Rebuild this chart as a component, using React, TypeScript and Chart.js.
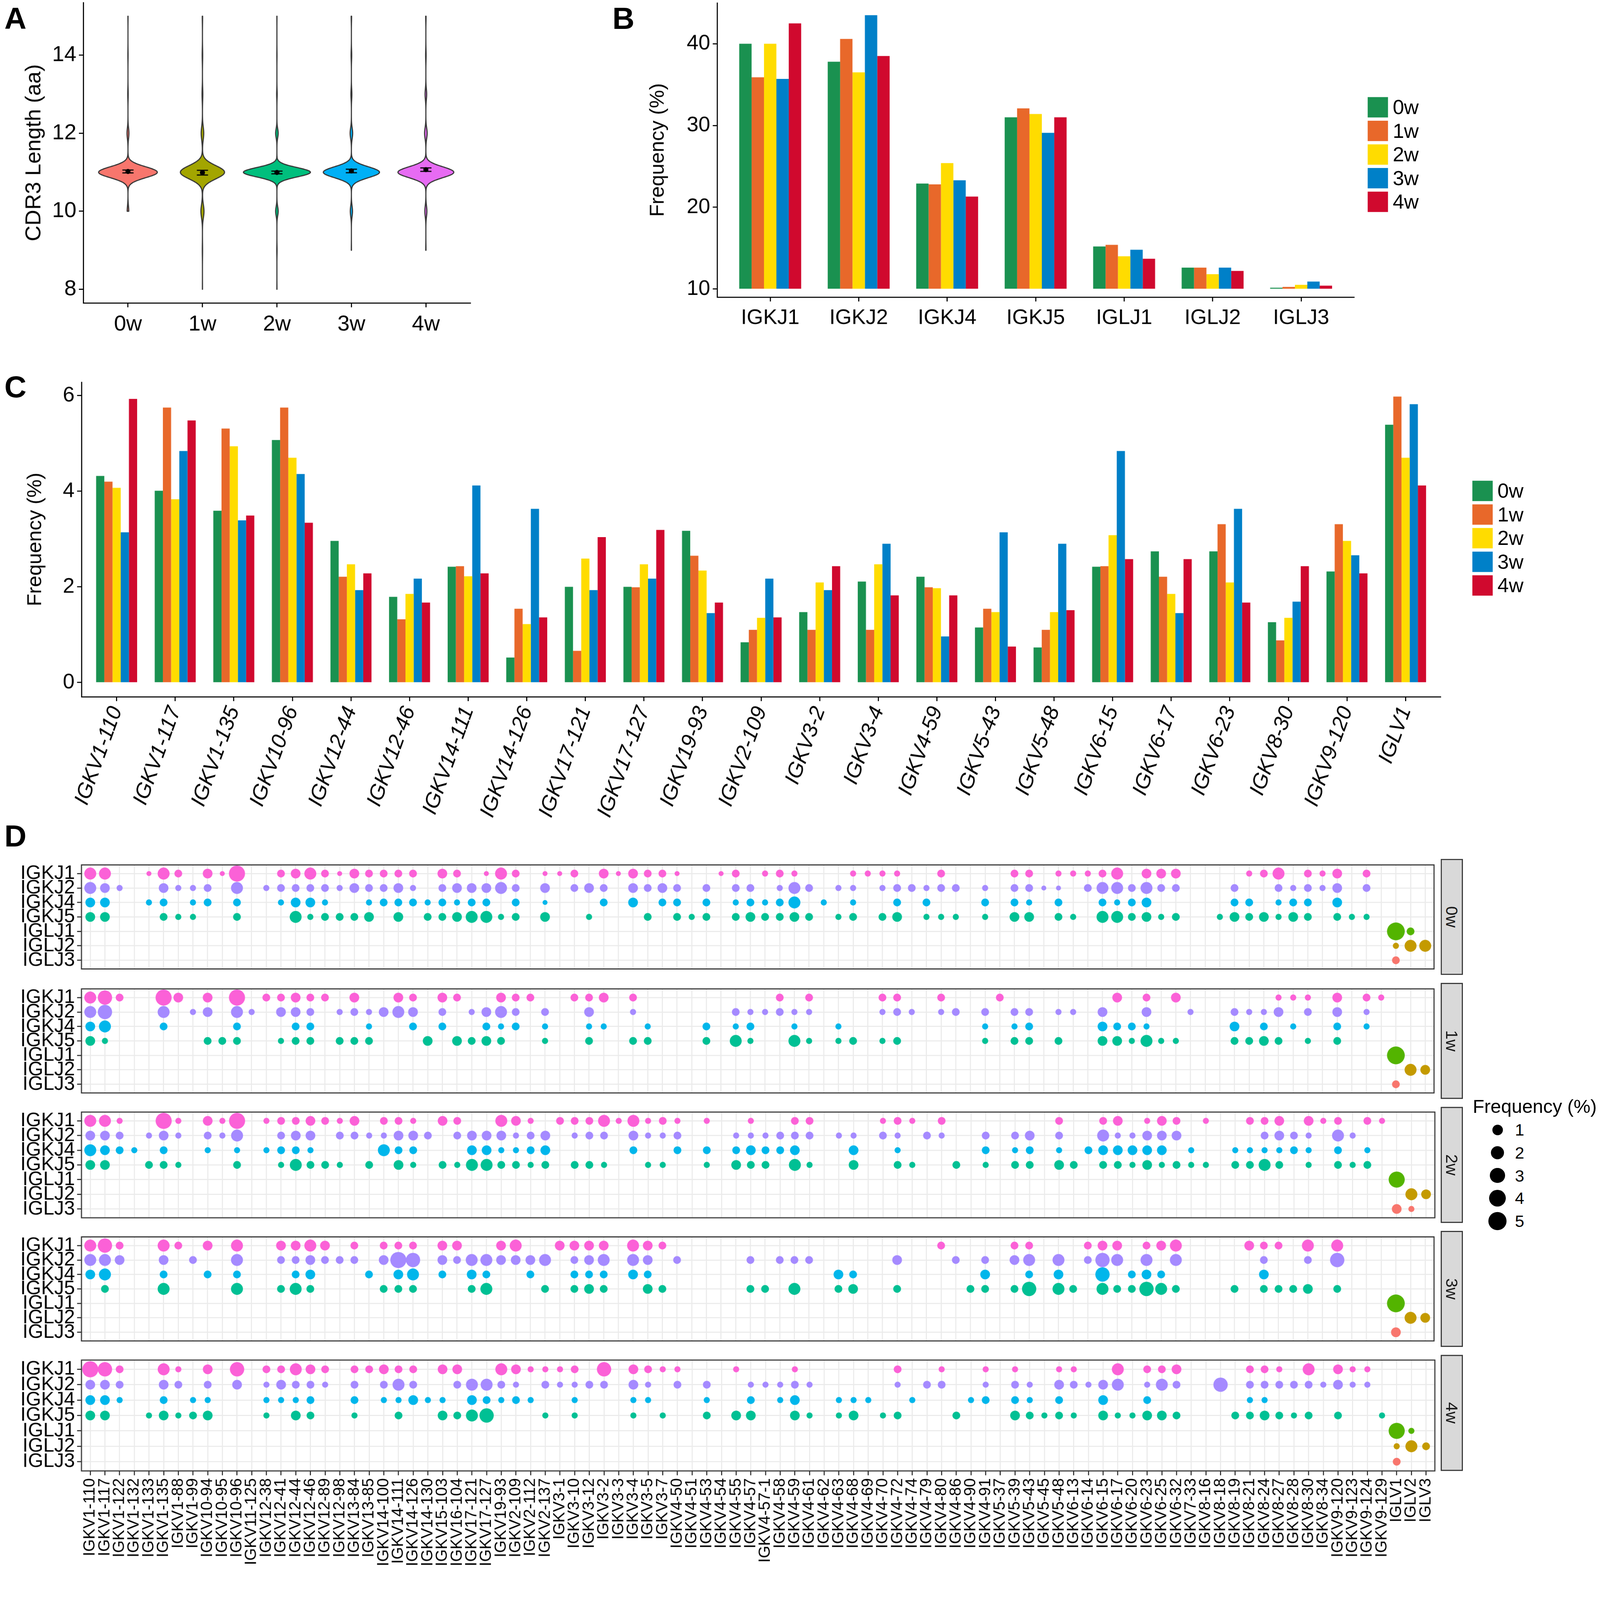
import React, { useEffect, useRef } from 'react';
import { Chart, registerables } from 'chart.js';

Chart.register(...registerables);

const FONT = "'Liberation Sans', Arial, Helvetica, sans-serif";

/* ======================= DATA ======================= */
const WEEKS = ['0w', '1w', '2w', '3w', '4w'];

// ---- Panel A: CDR3 length distribution (% of sequences per length) ----
const CDR3_LENGTHS = [8, 9, 10, 11, 12, 13, 14, 15];
const CDR3_PCT_0W = [0, 0, 2.5, 93, 3, 0.8, 0.4, 0.3];
const CDR3_PCT_1W = [0.2, 0.6, 6, 85, 5, 1.5, 1, 0.7];
const CDR3_PCT_2W = [0.2, 0.5, 3.5, 91, 3.5, 0.8, 0.3, 0.2];
const CDR3_PCT_3W = [0, 0.3, 3.5, 89, 4, 1.5, 1, 0.7];
const CDR3_PCT_4W = [0, 0.4, 3.2, 88, 4, 2.5, 0.8, 0.6];
const CDR3_BANDWIDTH = [0.14, 0.17, 0.12, 0.14, 0.14];
const CDR3_MEAN = [11.02, 10.99, 10.995, 11.033, 11.066];
const CDR3_SE = [0.038, 0.06, 0.035, 0.046, 0.044];

// ---- Panel B: J gene usage (%) ----
const B_GENES = ['IGKJ1', 'IGKJ2', 'IGKJ4', 'IGKJ5', 'IGLJ1', 'IGLJ2', 'IGLJ3'];
const B_0W = [40.0, 37.8, 22.9, 31.0, 15.2, 12.6, 10.15];
const B_1W = [35.9, 40.6, 22.8, 32.1, 15.4, 12.6, 10.25];
const B_2W = [40.0, 36.5, 25.4, 31.4, 14.0, 11.8, 10.5];
const B_3W = [35.7, 43.5, 23.3, 29.1, 14.8, 12.6, 10.9];
const B_4W = [42.5, 38.5, 21.3, 31.0, 13.7, 12.2, 10.4];

// ---- Panel C: V gene usage (%) ----
const C_GENES = ['IGKV1-110', 'IGKV1-117', 'IGKV1-135', 'IGKV10-96', 'IGKV12-44', 'IGKV12-46', 'IGKV14-111', 'IGKV14-126', 'IGKV17-121', 'IGKV17-127', 'IGKV19-93', 'IGKV2-109', 'IGKV3-2', 'IGKV3-4', 'IGKV4-59', 'IGKV5-43', 'IGKV5-48', 'IGKV6-15', 'IGKV6-17', 'IGKV6-23', 'IGKV8-30', 'IGKV9-120', 'IGLV1'];
const C_0W = [4.32, 4.01, 3.59, 5.07, 2.96, 1.79, 2.42, 0.52, 2.0, 2.0, 3.17, 0.84, 1.47, 2.11, 2.21, 1.15, 0.73, 2.42, 2.74, 2.74, 1.26, 2.32, 5.39];
const C_1W = [4.2, 5.75, 5.31, 5.75, 2.21, 1.32, 2.43, 1.54, 0.66, 1.99, 2.65, 1.1, 1.1, 1.1, 1.99, 1.54, 1.1, 2.43, 2.21, 3.31, 0.88, 3.31, 5.98];
const C_2W = [4.07, 3.83, 4.94, 4.7, 2.47, 1.85, 2.22, 1.22, 2.59, 2.47, 2.34, 1.35, 2.09, 2.47, 1.97, 1.47, 1.47, 3.08, 1.85, 2.09, 1.35, 2.96, 4.7];
const C_3W = [3.14, 4.84, 3.39, 4.36, 1.93, 2.17, 4.12, 3.63, 1.93, 2.17, 1.45, 2.17, 1.93, 2.9, 0.96, 3.14, 2.9, 4.84, 1.45, 3.63, 1.69, 2.66, 5.82];
const C_4W = [5.93, 5.48, 3.49, 3.34, 2.28, 1.67, 2.28, 1.36, 3.04, 3.19, 1.67, 1.36, 2.43, 1.82, 1.82, 0.75, 1.51, 2.58, 2.58, 1.67, 2.43, 2.28, 4.12];

// ---- Panel D: V-J pairing ----
const D_COLUMNS = ['IGKV1-110', 'IGKV1-117', 'IGKV1-122', 'IGKV1-132', 'IGKV1-133', 'IGKV1-135', 'IGKV1-88', 'IGKV1-99', 'IGKV10-94', 'IGKV10-95', 'IGKV10-96', 'IGKV11-125', 'IGKV12-38', 'IGKV12-41', 'IGKV12-44', 'IGKV12-46', 'IGKV12-89', 'IGKV12-98', 'IGKV13-84', 'IGKV13-85', 'IGKV14-100', 'IGKV14-111', 'IGKV14-126', 'IGKV14-130', 'IGKV15-103', 'IGKV16-104', 'IGKV17-121', 'IGKV17-127', 'IGKV19-93', 'IGKV2-109', 'IGKV2-112', 'IGKV2-137', 'IGKV3-1', 'IGKV3-10', 'IGKV3-12', 'IGKV3-2', 'IGKV3-3', 'IGKV3-4', 'IGKV3-5', 'IGKV3-7', 'IGKV4-50', 'IGKV4-51', 'IGKV4-53', 'IGKV4-54', 'IGKV4-55', 'IGKV4-57', 'IGKV4-57-1', 'IGKV4-58', 'IGKV4-59', 'IGKV4-61', 'IGKV4-62', 'IGKV4-63', 'IGKV4-68', 'IGKV4-69', 'IGKV4-70', 'IGKV4-72', 'IGKV4-74', 'IGKV4-79', 'IGKV4-80', 'IGKV4-86', 'IGKV4-90', 'IGKV4-91', 'IGKV5-37', 'IGKV5-39', 'IGKV5-43', 'IGKV5-45', 'IGKV5-48', 'IGKV6-13', 'IGKV6-14', 'IGKV6-15', 'IGKV6-17', 'IGKV6-20', 'IGKV6-23', 'IGKV6-25', 'IGKV6-32', 'IGKV7-33', 'IGKV8-16', 'IGKV8-18', 'IGKV8-19', 'IGKV8-21', 'IGKV8-24', 'IGKV8-27', 'IGKV8-28', 'IGKV8-30', 'IGKV8-34', 'IGKV9-120', 'IGKV9-123', 'IGKV9-124', 'IGKV9-129', 'IGLV1', 'IGLV2', 'IGLV3'];
const D_ROWS = ['IGKJ1', 'IGKJ2', 'IGKJ4', 'IGKJ5', 'IGLJ1', 'IGLJ2', 'IGLJ3'];
// dot size class (0 = no dot) -> frequency (%)
const SIZE_CLASS_PCT = [0, 0.01, 0.08, 0.3, 0.75, 1.5, 2.6, 3.6, 4.7];
const SIZE_LEGEND_BREAKS = [1, 2, 3, 4, 5];

// IGKJ rows: one class per IGKV column (first 89 columns)
const D_0W_IGKJ1 = [5,5,0,0,1,5,3,0,4,1, 7,0,0,3,4,5,3,1,4,3, 3,3,3,0,4,3,0,1,5,3, 0,1,1,3,0,4,1,4,3,3, 1,0,0,1,3,0,2,3,2,0, 0,0,2,2,2,2,0,0,3,0, 0,0,0,3,3,0,2,2,2,3, 5,0,4,4,4,0,0,0,0,2, 3,5,0,3,2,4,0,3,0];
const D_0W_IGKJ2 = [5,4,2,0,0,4,2,2,3,0, 5,0,2,3,3,3,3,2,4,3, 3,4,2,0,3,4,4,4,5,3, 0,4,0,3,4,3,0,4,3,4, 3,0,3,0,3,3,0,2,5,3, 0,2,2,0,2,3,3,2,3,3, 0,2,0,3,3,1,1,0,3,5, 5,3,5,3,3,0,0,0,3,0, 0,3,2,3,2,4,0,3,0];
const D_0W_IGKJ4 = [4,4,0,0,2,3,0,2,3,0, 3,0,0,2,4,4,2,0,0,2, 3,3,3,2,3,2,3,3,0,3, 0,1,0,0,0,3,0,4,0,3, 3,0,3,0,2,3,2,3,5,0, 2,0,2,0,0,3,0,3,0,0, 0,3,0,3,2,0,3,0,0,3, 2,3,4,0,0,0,0,0,3,3, 0,2,3,3,0,4,0,0,0];
const D_0W_IGKJ5 = [4,4,0,0,0,3,2,2,0,0, 3,0,0,0,5,2,3,3,3,4, 0,4,0,3,3,4,5,5,2,3, 0,4,0,0,2,0,0,0,3,0, 3,2,3,0,3,4,3,3,4,3, 0,2,3,0,3,4,0,2,2,2, 0,2,0,4,4,0,3,2,0,5, 5,3,4,2,3,0,0,2,4,3, 4,2,4,3,0,3,2,2,0];
const D_1W_IGKJ1 = [5,6,3,0,0,7,4,0,4,0, 7,0,3,3,4,3,3,0,4,0, 0,4,3,0,4,3,0,0,4,3, 3,0,0,3,3,4,0,3,0,0, 0,0,0,0,0,0,0,3,0,3, 0,0,0,0,3,3,0,0,3,0, 0,0,3,0,0,0,0,0,0,0, 4,0,3,0,4,0,0,0,0,0, 0,2,2,2,0,4,0,3,2];
const D_1W_IGKJ2 = [5,6,0,0,0,5,0,2,4,0, 5,2,0,4,4,3,0,2,3,2, 4,5,4,0,3,0,2,4,5,3, 0,3,0,0,4,0,0,2,0,0, 0,0,0,0,3,2,2,3,2,2, 0,0,0,0,2,3,2,0,2,3, 0,3,0,3,3,0,2,2,0,4, 0,0,4,0,0,2,0,0,3,2, 2,4,0,3,0,4,0,2,0];
const D_1W_IGKJ4 = [4,5,0,0,0,3,0,0,0,0, 3,0,0,0,3,3,0,0,0,2, 0,0,3,0,3,0,0,3,2,3, 0,2,0,0,2,2,0,0,2,0, 0,0,3,0,2,3,0,0,2,0, 0,2,0,0,0,0,0,0,0,0, 0,2,0,2,3,0,0,0,0,4, 3,3,2,0,0,0,0,0,4,0, 3,0,2,0,0,3,0,2,0];
const D_1W_IGKJ5 = [4,2,0,0,0,0,0,0,3,3, 3,0,0,2,3,3,0,3,3,3, 0,0,0,4,0,4,3,4,3,0, 0,2,0,0,3,0,0,3,3,0, 0,0,3,0,5,2,0,0,5,2, 0,2,3,0,2,3,0,0,0,0, 0,2,0,3,3,0,3,0,0,4, 4,2,5,2,2,0,0,0,3,3, 4,3,0,2,0,3,0,0,0];
const D_2W_IGKJ1 = [5,5,2,0,0,7,2,0,4,2, 7,0,2,3,3,4,3,2,4,0, 3,3,2,0,4,3,0,0,5,4, 2,0,3,3,3,5,2,5,2,3, 2,0,2,0,0,2,0,0,3,3, 0,0,0,0,2,3,2,0,3,0, 0,0,0,0,0,0,3,0,0,3, 4,0,2,4,3,0,2,0,0,3, 3,4,0,4,2,3,0,3,2];
const D_2W_IGKJ2 = [4,4,3,0,2,4,2,0,3,2, 5,0,0,3,4,4,0,3,3,2, 2,4,4,3,0,3,4,4,4,2, 3,4,0,2,3,3,0,4,2,2, 3,0,0,0,2,2,2,3,3,3, 0,2,2,0,3,2,0,3,2,0, 0,3,0,3,4,0,3,0,0,5, 2,2,4,4,4,0,0,0,0,0, 3,4,3,2,0,5,2,0,0];
const D_2W_IGKJ4 = [5,4,3,2,0,3,0,0,2,0, 2,0,2,3,3,2,0,0,0,0, 5,3,3,0,0,0,4,4,2,2, 3,4,0,0,0,0,0,3,0,0, 3,0,3,0,3,4,3,3,4,0, 0,0,4,0,0,2,0,0,0,0, 0,3,0,2,3,0,2,0,3,4, 4,4,4,4,0,2,0,0,2,2, 2,2,3,2,0,3,0,2,0];
const D_2W_IGKJ5 = [4,4,0,0,3,3,2,0,0,0, 3,0,0,2,5,3,3,2,0,3, 0,4,2,0,3,2,5,5,3,3, 2,3,0,3,3,2,0,0,2,2, 0,0,2,0,4,3,3,0,5,2, 0,0,4,0,0,3,2,0,0,3, 0,2,0,3,3,0,4,3,0,3, 3,2,4,2,3,2,2,0,3,3, 5,3,0,2,0,3,2,3,0];
const D_3W_IGKJ1 = [5,6,3,0,0,5,3,0,4,0, 5,0,0,4,4,5,4,0,3,0, 3,3,3,0,4,4,0,0,4,5, 0,0,4,4,4,4,0,5,4,3, 0,0,0,0,0,0,0,0,0,0, 0,0,0,0,0,0,0,0,3,0, 0,0,0,3,3,0,0,0,3,4, 4,0,3,4,5,0,0,0,0,4, 3,3,0,5,0,5,0,0,0];
const D_3W_IGKJ2 = [5,5,4,0,0,4,0,3,0,0, 5,0,0,3,3,4,3,3,3,0, 4,7,6,0,4,3,5,5,4,4, 4,5,0,3,4,5,0,5,4,0, 3,0,0,0,0,3,0,3,3,3, 0,0,0,0,0,4,0,0,0,3, 0,3,0,4,5,0,5,0,3,6, 5,0,5,0,5,0,0,0,0,0, 3,0,0,3,0,6,0,0,0];
const D_3W_IGKJ4 = [4,5,0,0,0,3,0,0,3,0, 3,0,0,0,3,4,0,0,0,3, 0,4,5,0,3,0,4,3,0,0, 3,0,0,3,3,3,0,4,3,0, 0,0,0,0,0,0,0,0,0,0, 0,4,3,0,0,0,0,0,0,0, 0,4,0,0,3,0,4,0,0,6, 0,3,4,3,0,0,0,0,0,0, 4,0,0,0,0,0,0,0,0];
const D_3W_IGKJ5 = [0,3,0,0,0,5,0,0,0,0, 5,0,0,3,5,3,0,0,0,0, 3,3,3,0,0,0,3,5,0,0, 0,3,0,3,4,3,0,0,4,3, 0,0,0,0,0,3,3,0,5,0, 0,3,4,0,0,3,0,0,0,0, 3,3,0,3,6,0,5,3,0,5, 3,3,6,5,3,0,0,0,3,0, 3,3,3,4,0,3,0,0,0];
const D_4W_IGKJ1 = [7,6,3,0,0,5,2,0,4,0, 6,0,3,3,5,4,3,0,3,3, 4,3,3,0,4,4,0,0,5,4, 2,2,2,3,0,6,0,4,3,2, 2,0,0,0,2,0,0,0,2,0, 0,0,0,0,0,3,0,0,2,0, 0,2,0,2,0,0,2,2,0,0, 5,0,3,3,4,0,0,0,0,3, 3,2,0,5,0,4,2,2,0];
const D_4W_IGKJ2 = [4,4,3,0,0,4,3,0,3,0, 4,0,2,4,3,3,2,0,3,0, 3,5,3,0,0,3,5,5,3,2, 0,3,2,2,3,3,0,4,2,0, 3,0,3,0,0,2,2,2,3,2, 0,0,0,0,0,2,0,3,3,0, 0,2,0,3,2,0,4,3,2,4, 5,0,2,5,3,0,0,6,0,3, 3,3,3,3,2,4,2,2,0];
const D_4W_IGKJ4 = [4,4,2,0,0,3,0,2,2,0, 0,0,2,2,2,3,0,0,3,0, 2,2,4,2,2,0,4,3,2,3, 2,0,0,2,0,0,0,2,2,0, 0,0,2,0,0,3,0,2,4,0, 0,2,2,2,0,0,2,0,0,0, 2,3,0,3,2,0,3,0,0,4, 0,0,3,0,0,0,0,0,0,2, 2,0,0,0,0,0,0,0,0];
const D_4W_IGKJ5 = [4,4,0,0,2,4,2,3,4,0, 0,0,2,0,4,3,0,0,2,0, 0,3,0,0,4,3,5,6,0,0, 0,2,0,2,0,0,0,2,0,2, 0,0,3,0,4,4,0,0,4,2, 0,2,4,0,2,3,0,0,0,3, 0,0,0,4,3,2,3,2,0,4, 2,2,4,4,3,0,0,0,3,3, 4,3,2,3,0,3,0,0,2];
// IGLJ rows: classes for IGLV1, IGLV2, IGLV3
const D_0W_IGLJ1 = [8, 3, 0], D_0W_IGLJ2 = [2, 5, 5], D_0W_IGLJ3 = [3, 0, 0];
const D_1W_IGLJ1 = [8, 0, 0], D_1W_IGLJ2 = [0, 5, 4], D_1W_IGLJ3 = [3, 0, 0];
const D_2W_IGLJ1 = [7, 0, 0], D_2W_IGLJ2 = [0, 5, 4], D_2W_IGLJ3 = [4, 2, 0];
const D_3W_IGLJ1 = [8, 0, 0], D_3W_IGLJ2 = [0, 5, 4], D_3W_IGLJ3 = [4, 0, 0];
const D_4W_IGLJ1 = [7, 2, 0], D_4W_IGLJ2 = [2, 5, 3], D_4W_IGLJ3 = [3, 0, 0];

/* ======================= STYLE / LAYOUT ======================= */
const PAGE_W = 4400, PAGE_H = 4319;
const VIOLIN_COLORS = ['#F8766D', '#A3A500', '#00BF7D', '#00B0F6', '#E76BF3'];
const BAR_COLORS = ['#1A9150', '#E8682A', '#FFDC00', '#0080C8', '#D0092E'];
const ROW_COLORS = ['#FB61D7', '#A58AFF', '#00B6EB', '#00C094', '#53B400', '#C49A00', '#F8766D'];

const L = {
  A: { rect: { left: 0, top: 0, width: 1320, height: 920 }, area: { left: 229, right: 1294, top: 7, bottom: 833 } },
  B: { rect: { left: 1700, top: 0, width: 2100, height: 920 }, area: { left: 1972, right: 3724, top: 8, bottom: 817 } },
  C: { rect: { left: 0, top: 1040, width: 4000, height: 1250 }, area: { left: 224, right: 3962, top: 1051, bottom: 1916 } },
  D: { left: 224, right: 3962, tops: [2362, 2703, 3044, 3385, 3726], h: 319, canvasW: 3968 },
};

const dotDiameter = (pct: number) => 12 + 17 * Math.sqrt(pct);

function frame(rect: any, area: any) {
  return {
    padding: { left: 0, top: area.top - rect.top, right: rect.left + rect.width - area.right, bottom: 0 },
    yWidth: area.left - rect.left,
    xHeight: rect.top + rect.height - area.bottom,
  };
}
const fitTo = (size: any) => (scale: any) => {
  if (size.width !== undefined) scale.width = size.width;
  if (size.height !== undefined) scale.height = size.height;
  scale.paddingLeft = 0; scale.paddingRight = 0; scale.paddingTop = 0; scale.paddingBottom = 0;
};
const setTicks = (values: number[]) => (scale: any) => { scale.ticks = values.map((v) => ({ value: v })); };
const range = (n: number) => Array.from({ length: n }, (_, i) => i);

const classicGrid = { display: true, drawOnChartArea: false, drawTicks: true, tickLength: 12, tickWidth: 3, tickColor: '#000', offset: false };
const classicBorder = { display: true, color: '#000', width: 3 };
const baseOpts = { animation: false, responsive: false, devicePixelRatio: 1, events: [], plugins: { legend: { display: false }, tooltip: { enabled: false } } };

/* ======================= PANEL A ======================= */
const CDR3_PCT = [CDR3_PCT_0W, CDR3_PCT_1W, CDR3_PCT_2W, CDR3_PCT_3W, CDR3_PCT_4W];

function violinProfiles() {
  const step = 0.005;
  const profiles = CDR3_PCT.map((pct, i) => {
    const present = CDR3_LENGTHS.filter((_, k) => pct[k] > 0);
    const lo = Math.min(...present), hi = Math.max(...present);
    const total = pct.reduce((a, b) => a + b, 0);
    const bw = CDR3_BANDWIDTH[i];
    const ys: number[] = [], ds: number[] = [];
    const n = Math.round((hi - lo) / step);
    for (let s = 0; s <= n; s++) {
      const yv = lo + s * step;
      let d = 0;
      CDR3_LENGTHS.forEach((len, k) => { const z = (yv - len) / bw; d += pct[k] * Math.exp(-0.5 * z * z); });
      ys.push(yv); ds.push(d / (total * bw * Math.sqrt(2 * Math.PI)));
    }
    return { ys, ds };
  });
  const maxD = Math.max(...profiles.map((p) => Math.max(...p.ds)));
  return profiles.map((p) => ({ ys: p.ys, hw: p.ds.map((d) => (0.45 * d) / maxD) }));
}

const violinPlugin = {
  id: 'violins',
  beforeDatasetsDraw(chart: any) {
    const { ctx, scales } = chart;
    const x = scales.x, y = scales.y;
    const profiles = violinProfiles();
    ctx.save();
    profiles.forEach((p, i) => {
      ctx.beginPath();
      p.ys.forEach((v, k) => {
        const px = x.getPixelForValue(i + p.hw[k]), py = y.getPixelForValue(v);
        if (k === 0) ctx.moveTo(px, py); else ctx.lineTo(px, py);
      });
      for (let k = p.ys.length - 1; k >= 0; k--) ctx.lineTo(x.getPixelForValue(i - p.hw[k]), y.getPixelForValue(p.ys[k]));
      ctx.closePath();
      ctx.fillStyle = VIOLIN_COLORS[i];
      ctx.fill();
      ctx.lineWidth = 3; ctx.lineJoin = 'round'; ctx.strokeStyle = '#333333';
      ctx.stroke();
    });
    // error bars (mean ± SE)
    ctx.strokeStyle = '#000'; ctx.lineWidth = 3;
    WEEKS.forEach((_, i) => {
      const lo = y.getPixelForValue(CDR3_MEAN[i] - CDR3_SE[i]);
      const hi = y.getPixelForValue(CDR3_MEAN[i] + CDR3_SE[i]);
      const xl = x.getPixelForValue(i - 0.075), xr = x.getPixelForValue(i + 0.075), xc = x.getPixelForValue(i);
      ctx.beginPath();
      ctx.moveTo(xl, lo); ctx.lineTo(xr, lo);
      ctx.moveTo(xl, hi); ctx.lineTo(xr, hi);
      ctx.moveTo(xc, lo); ctx.lineTo(xc, hi);
      ctx.stroke();
    });
    ctx.restore();
  },
};

function makeA(canvas: HTMLCanvasElement) {
  const f = frame(L.A.rect, L.A.area);
  return new Chart(canvas, {
    type: 'scatter',
    data: { datasets: [{ data: WEEKS.map((_, i) => ({ x: i, y: CDR3_MEAN[i] })), pointRadius: 7, pointBackgroundColor: '#000', pointBorderWidth: 0 }] },
    options: {
      ...baseOpts,
      layout: { padding: f.padding },
      scales: {
        x: {
          type: 'linear', min: -0.6, max: 4.6, afterBuildTicks: setTicks(range(5)), afterFit: fitTo({ height: f.xHeight }),
          ticks: { callback: (v: any) => WEEKS[v], font: { size: 60, family: FONT }, color: '#000', padding: 11, autoSkip: false, maxRotation: 0 },
          grid: classicGrid, border: classicBorder,
        },
        y: {
          type: 'linear', min: 7.65, max: 15.35, afterBuildTicks: setTicks([8, 10, 12, 14]), afterFit: fitTo({ width: f.yWidth }),
          ticks: { font: { size: 60, family: FONT }, color: '#000', padding: 7, autoSkip: false },
          grid: classicGrid, border: classicBorder,
          title: { display: true, text: 'CDR3 Length (aa)', font: { size: 60, family: FONT }, color: '#000', padding: { top: 58, bottom: 0 } },
        },
      },
    } as any,
    plugins: [violinPlugin],
  } as any);
}

/* ======================= PANELS B & C ======================= */
function makeBars(canvas: HTMLCanvasElement, lay: any, genes: string[], series: number[][], opt: any) {
  const f = frame(lay.rect, lay.area);
  return new Chart(canvas, {
    type: 'bar',
    data: {
      datasets: WEEKS.map((w, k) => ({
        label: w,
        data: series[k].map((v, i) => ({ x: i, y: v })),
        backgroundColor: BAR_COLORS[k], borderWidth: 0, base: opt.base,
        categoryPercentage: 0.7, barPercentage: 1,
      })),
    },
    options: {
      ...baseOpts,
      layout: { padding: f.padding },
      scales: {
        x: {
          type: 'linear', offset: false, min: -0.6, max: genes.length - 0.4,
          afterBuildTicks: setTicks(range(genes.length)), afterFit: fitTo({ height: f.xHeight }),
          ticks: {
            callback: (v: any) => genes[v], font: { size: 58, family: FONT, style: opt.italic ? 'italic' : 'normal' }, color: '#000',
            padding: opt.xPad, autoSkip: false, minRotation: opt.rotation, maxRotation: opt.rotation,
          },
          grid: classicGrid, border: classicBorder,
        },
        y: {
          type: 'linear', min: opt.yMin, max: opt.yMax, afterBuildTicks: setTicks(opt.yTicks), afterFit: fitTo({ width: f.yWidth }),
          ticks: { font: { size: 58, family: FONT }, color: '#000', padding: 7, autoSkip: false },
          grid: classicGrid, border: classicBorder,
          title: { display: true, text: 'Frequency (%)', font: { size: 56, family: FONT }, color: '#000', padding: { top: opt.titlePad, bottom: 0 } },
        },
      },
    } as any,
  } as any);
}

/* ======================= PANEL D ======================= */
const D_IGKJ = [
  [D_0W_IGKJ1, D_0W_IGKJ2, D_0W_IGKJ4, D_0W_IGKJ5],
  [D_1W_IGKJ1, D_1W_IGKJ2, D_1W_IGKJ4, D_1W_IGKJ5],
  [D_2W_IGKJ1, D_2W_IGKJ2, D_2W_IGKJ4, D_2W_IGKJ5],
  [D_3W_IGKJ1, D_3W_IGKJ2, D_3W_IGKJ4, D_3W_IGKJ5],
  [D_4W_IGKJ1, D_4W_IGKJ2, D_4W_IGKJ4, D_4W_IGKJ5],
];
const D_IGLJ = [
  [D_0W_IGLJ1, D_0W_IGLJ2, D_0W_IGLJ3],
  [D_1W_IGLJ1, D_1W_IGLJ2, D_1W_IGLJ3],
  [D_2W_IGLJ1, D_2W_IGLJ2, D_2W_IGLJ3],
  [D_3W_IGLJ1, D_3W_IGLJ2, D_3W_IGLJ3],
  [D_4W_IGLJ1, D_4W_IGLJ2, D_4W_IGLJ3],
];
const IGLV_FIRST = D_COLUMNS.indexOf('IGLV1');

const panelBorder = {
  id: 'panelBorder',
  afterDraw(chart: any) {
    const { ctx, chartArea: a } = chart;
    ctx.save();
    ctx.strokeStyle = '#333333'; ctx.lineWidth = 3;
    ctx.strokeRect(a.left, a.top, a.right - a.left, a.bottom - a.top);
    ctx.restore();
  },
};

function dRect(k: number) {
  const last = k === WEEKS.length - 1;
  const top = L.D.tops[k];
  return { left: 0, top: top - 8, width: L.D.canvasW, height: L.D.h + 8 + (last ? 268 : 8) };
}

function makeFacet(canvas: HTMLCanvasElement, k: number) {
  const last = k === WEEKS.length - 1;
  const rect = dRect(k);
  const area = { left: L.D.left, right: L.D.right, top: L.D.tops[k], bottom: L.D.tops[k] + L.D.h };
  const f = frame(rect, area);
  const datasets = D_ROWS.map((row, g) => {
    const pts: any[] = [];
    if (g < 4) {
      D_IGKJ[k][g].forEach((c, col) => { if (c) pts.push({ x: col, y: g, r: dotDiameter(SIZE_CLASS_PCT[c]) / 2 }); });
    } else {
      D_IGLJ[k][g - 4].forEach((c, j) => { if (c) pts.push({ x: IGLV_FIRST + j, y: g, r: dotDiameter(SIZE_CLASS_PCT[c]) / 2 }); });
    }
    return { label: row, data: pts, backgroundColor: ROW_COLORS[g], borderWidth: 0, clip: false };
  });
  return new Chart(canvas, {
    type: 'bubble',
    data: { datasets },
    options: {
      ...baseOpts,
      layout: { padding: f.padding },
      scales: {
        x: {
          type: 'linear', min: -0.6, max: D_COLUMNS.length - 0.4,
          afterBuildTicks: setTicks(range(D_COLUMNS.length)), afterFit: fitTo({ height: f.xHeight }),
          ticks: {
            display: last, callback: (v: any) => D_COLUMNS[v], font: { size: 44, family: FONT }, color: '#000',
            padding: 8, autoSkip: false, minRotation: 90, maxRotation: 90,
          },
          grid: { display: true, color: '#EBEBEB', lineWidth: 3, drawTicks: last, tickLength: 12, tickWidth: 3, tickColor: '#333333' },
          border: { display: false },
        },
        y: {
          type: 'linear', reverse: true, min: -0.6, max: 6.6,
          afterBuildTicks: setTicks(range(D_ROWS.length)), afterFit: fitTo({ width: f.yWidth }),
          ticks: { callback: (v: any) => D_ROWS[v], font: { size: 54, family: FONT }, color: '#000', padding: 6, autoSkip: false },
          grid: { display: true, color: '#EBEBEB', lineWidth: 3, drawTicks: true, tickLength: 12, tickWidth: 3, tickColor: '#333333' },
          border: { display: false },
        },
      },
    } as any,
    plugins: [panelBorder],
  } as any);
}

/* ======================= APP ======================= */
const abs = (left: number, top: number, extra: any = {}) => ({ position: 'absolute' as const, left, top, ...extra });
const letterStyle = (left: number, top: number) => abs(left, top, { fontSize: 84, fontWeight: 'bold', lineHeight: 1, color: '#000' });

function viewportScale() {
  if (typeof window === 'undefined') return 1;
  const w = document.documentElement.clientWidth || window.innerWidth || PAGE_W;
  return w / PAGE_W;
}

export default function App() {
  const refA = useRef<HTMLCanvasElement>(null);
  const refB = useRef<HTMLCanvasElement>(null);
  const refC = useRef<HTMLCanvasElement>(null);
  const refD = useRef<(HTMLCanvasElement | null)[]>([]);
  document.documentElement.style.overflow = 'hidden';
  document.body.style.margin = '0';
  document.body.style.overflow = 'hidden';
  const s = viewportScale();

  useEffect(() => {
    Chart.defaults.font.family = FONT;
    Chart.defaults.color = '#000';
    const charts: any[] = [];
    charts.push(makeA(refA.current!));
    charts.push(makeBars(refB.current!, L.B, B_GENES, [B_0W, B_1W, B_2W, B_3W, B_4W],
      { base: 10, yMin: 9.0, yMax: 45.0, yTicks: [10, 20, 30, 40], rotation: 0, italic: false, xPad: 11, titlePad: 76 }));
    charts.push(makeBars(refC.current!, L.C, C_GENES, [C_0W, C_1W, C_2W, C_3W, C_4W],
      { base: 0, yMin: -0.3, yMax: 6.28, yTicks: [0, 2, 4, 6], rotation: 70, italic: true, xPad: 6, titlePad: 64 }));
    WEEKS.forEach((_, k) => charts.push(makeFacet(refD.current[k]!, k)));
    return () => charts.forEach((c) => c.destroy());
  }, []);

  const canvasFor = (rect: any, ref: any) => (
    <canvas ref={ref} width={rect.width} height={rect.height} style={abs(rect.left, rect.top, { width: rect.width, height: rect.height })} />
  );

  return (
    <div style={{
      position: 'absolute', left: 0, top: 0, width: PAGE_W, height: PAGE_H, overflow: 'hidden', background: '#fff',
      fontFamily: FONT, color: '#000', transform: `scale(${s})`, transformOrigin: '0 0',
    }}>
      {canvasFor(L.A.rect, refA)}
      {canvasFor(L.B.rect, refB)}
      {canvasFor(L.C.rect, refC)}
      {WEEKS.map((w, k) => {
        const r = dRect(k);
        return (
          <canvas key={w} ref={(el) => { refD.current[k] = el; }} width={r.width} height={r.height}
            style={abs(r.left, r.top, { width: r.width, height: r.height })} />
        );
      })}

      <div style={letterStyle(12, 9)}>A</div>
      <div style={letterStyle(1684, 9)}>B</div>
      <div style={letterStyle(12, 1022)}>C</div>
      <div style={letterStyle(12, 2257)}>D</div>

      {/* legend B */}
      {WEEKS.map((w, k) => (
        <React.Fragment key={'b' + w}>
          <div style={abs(3761, 295 + 65 * k - 28, { width: 56, height: 56, background: BAR_COLORS[k] })} />
          <div style={abs(3830, 295 + 65 * k - 35, { height: 70, lineHeight: '70px', fontSize: 56 })}>{w}</div>
        </React.Fragment>
      ))}
      {/* legend C */}
      {WEEKS.map((w, k) => (
        <React.Fragment key={'c' + w}>
          <div style={abs(4049, 1350 + 65 * k - 28, { width: 56, height: 56, background: BAR_COLORS[k] })} />
          <div style={abs(4118, 1350 + 65 * k - 35, { height: 70, lineHeight: '70px', fontSize: 56 })}>{w}</div>
        </React.Fragment>
      ))}

      {/* facet strips */}
      {WEEKS.map((w, k) => (
        <div key={'s' + w} style={abs(L.D.right, L.D.tops[k], {
          width: 61, height: L.D.h, boxSizing: 'border-box', background: '#D9D9D9', border: '3px solid #333333',
          display: 'flex', alignItems: 'center', justifyContent: 'center',
        })}>
          <span style={{ writingMode: 'vertical-rl', fontSize: 46, color: '#1A1A1A', lineHeight: 1 }}>{w}</span>
        </div>
      ))}

      {/* legend D */}
      <div style={abs(4050, 3016, { fontSize: 52, lineHeight: 1, whiteSpace: 'nowrap' })}>Frequency (%)</div>
      {SIZE_LEGEND_BREAKS.map((v, k) => {
        const d = dotDiameter(v);
        const cy = 3107 + 62.75 * k;
        return (
          <React.Fragment key={'d' + v}>
            <div style={abs(4118 - d / 2, cy - d / 2, { width: d, height: d, borderRadius: '50%', background: '#000' })} />
            <div style={abs(4166, cy - 26, { fontSize: 46, lineHeight: '52px' })}>{v}</div>
          </React.Fragment>
        );
      })}
    </div>
  );
}
